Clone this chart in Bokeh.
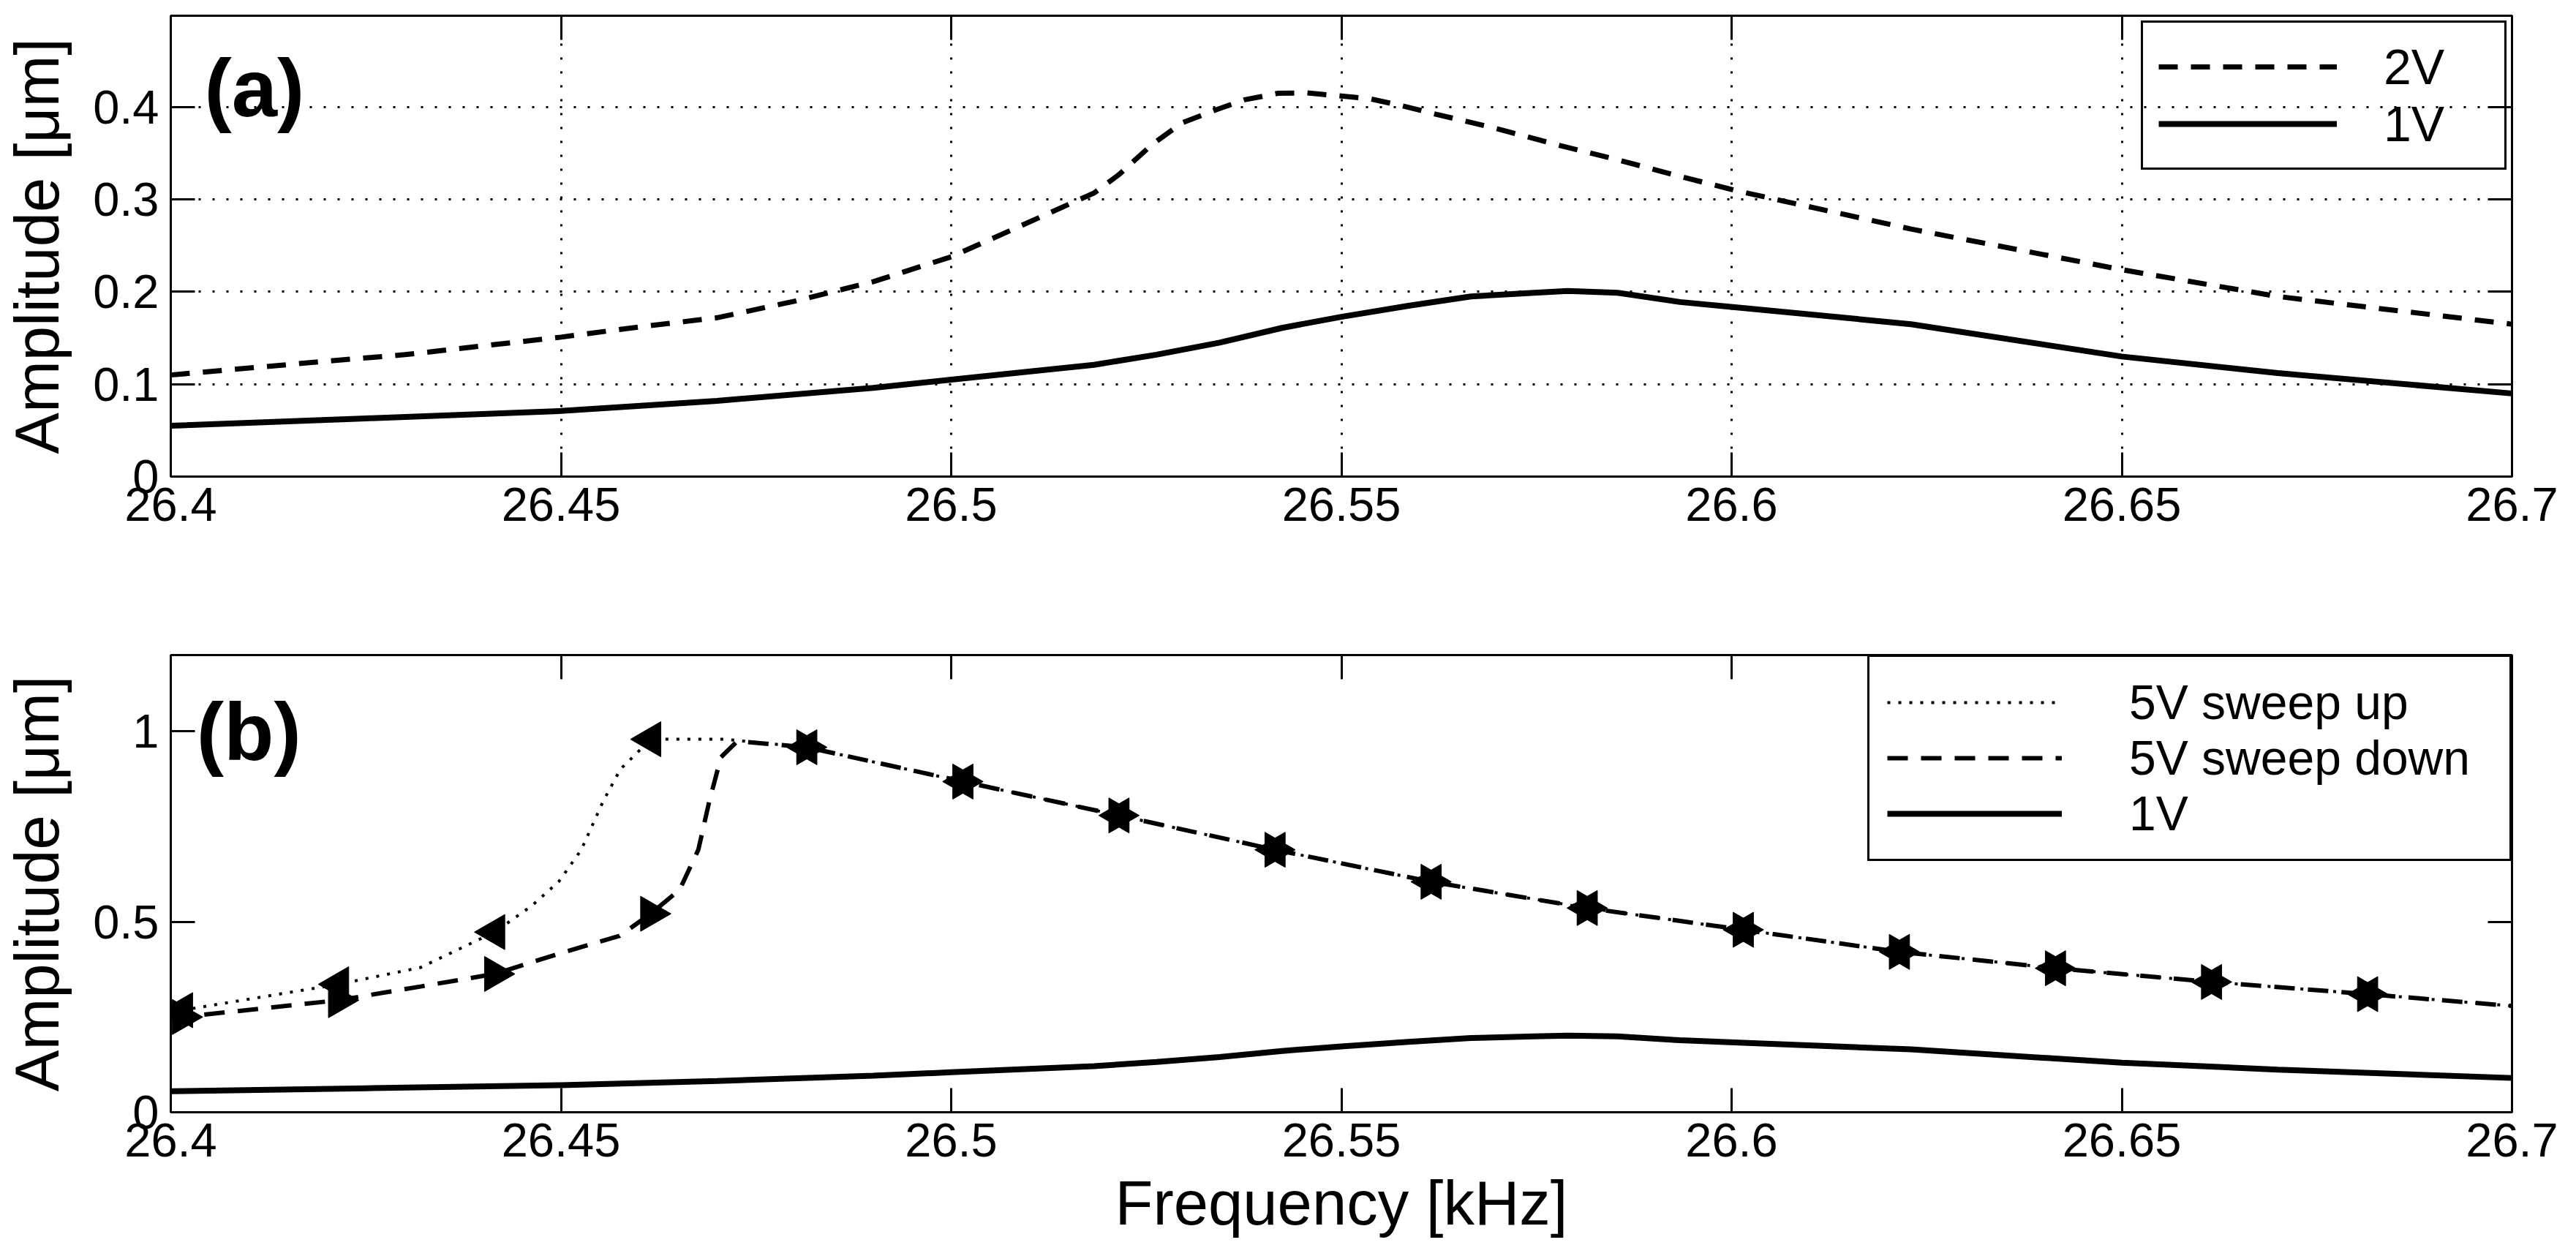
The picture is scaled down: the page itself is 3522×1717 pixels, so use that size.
from math import pi
from bokeh.plotting import figure
from bokeh.models import (Range1d, FixedTicker, LinearAxis, CustomJSTickFormatter,
                          Legend, LegendItem, Label)
from bokeh.layouts import column
from bokeh.embed import file_html
from bokeh.resources import INLINE

FONT = "Liberation Sans"

# ---------------- data ----------------
x_ticks = [26.4, 26.45, 26.5, 26.55, 26.6, 26.65, 26.7]
ya_ticks = [0, 0.1, 0.2, 0.3, 0.4]
yb_ticks = [0, 0.5, 1]

# panel (a): 2V
f_2v = [26.400, 26.420, 26.430, 26.450, 26.460, 26.470, 26.480, 26.490, 26.500,
        26.508, 26.5183, 26.5215, 26.5258, 26.5296, 26.5339, 26.5376, 26.5419,
        26.5456, 26.550, 26.5537, 26.5575, 26.5618, 26.5698, 26.5773, 26.5854,
        26.5934, 26.6009, 26.623, 26.650, 26.670, 26.700]
a_2v = [0.110, 0.125, 0.132, 0.151, 0.162, 0.172, 0.190, 0.211, 0.238,
        0.268, 0.307, 0.327, 0.360, 0.383, 0.397, 0.408, 0.415,
        0.4155, 0.412, 0.409, 0.402, 0.393, 0.377, 0.360, 0.343,
        0.325, 0.309, 0.268, 0.224, 0.195, 0.165]

# 1V (both panels)
f_1v = [26.400, 26.425, 26.450, 26.470, 26.490, 26.500, 26.5183, 26.5263, 26.5344,
        26.5424, 26.550, 26.5586, 26.5666, 26.5747, 26.579, 26.5854, 26.5934,
        26.6009, 26.623, 26.650, 26.670, 26.700]
a_1v = [0.055, 0.063, 0.071, 0.082, 0.096, 0.105, 0.121, 0.132, 0.145,
        0.161, 0.173, 0.185, 0.195, 0.199, 0.201, 0.199, 0.189,
        0.183, 0.165, 0.130, 0.112, 0.090]

# panel (b): 5V sweep up (dotted)
f_up = [26.400, 26.4015, 26.4215, 26.432, 26.4415, 26.4462, 26.4497, 26.4526,
        26.4554, 26.4576, 26.4615, 26.471, 26.4815, 26.5015, 26.5215, 26.5415,
        26.5615, 26.5815, 26.6015, 26.6215, 26.6415, 26.6615, 26.6815, 26.700]
a_up = [0.266, 0.268, 0.336, 0.380, 0.473, 0.541, 0.605, 0.689,
        0.816, 0.900, 0.979, 0.979, 0.958, 0.868, 0.779, 0.689,
        0.605, 0.536, 0.479, 0.421, 0.378, 0.342, 0.310, 0.279]

# panel (b): 5V sweep down (dashed)
f_dn = [26.400, 26.4015, 26.4215, 26.432, 26.4415, 26.4497, 26.4575, 26.4615,
        26.4652, 26.4676, 26.469, 26.4705, 26.4726, 26.4815, 26.5015, 26.5215,
        26.5415, 26.5615, 26.5815, 26.6015, 26.6215, 26.6415, 26.6615, 26.6815, 26.700]
a_dn = [0.248, 0.250, 0.294, 0.330, 0.363, 0.416, 0.463, 0.521,
        0.584, 0.689, 0.816, 0.932, 0.974, 0.958, 0.868, 0.779,
        0.689, 0.605, 0.536, 0.479, 0.421, 0.378, 0.342, 0.310, 0.279]

# marker positions
f_mark = [26.4015, 26.4215, 26.4415, 26.4615, 26.4815, 26.5015, 26.5215, 26.5415,
          26.5615, 26.5815, 26.6015, 26.6215, 26.6415, 26.6615, 26.6815]
a_mark_up = [0.268, 0.336, 0.473, 0.979, 0.958, 0.868, 0.779, 0.689,
             0.605, 0.536, 0.479, 0.421, 0.378, 0.342, 0.310]
a_mark_dn = [0.250, 0.294, 0.363, 0.521, 0.958, 0.868, 0.779, 0.689,
             0.605, 0.536, 0.479, 0.421, 0.378, 0.342, 0.310]

FMT = "return String(Math.round(tick*1000)/1000);"
EMPTY = "return '';"
TICK_LEN = 33


def style(p, yticks, ylabel, xlabel=None):
    p.outline_line_color = "black"
    p.outline_line_width = 3
    p.outline_line_alpha = 1.0
    p.xaxis.ticker = FixedTicker(ticks=x_ticks)
    p.yaxis.ticker = FixedTicker(ticks=yticks)
    p.xaxis.formatter = CustomJSTickFormatter(code=FMT)
    p.yaxis.formatter = CustomJSTickFormatter(code=FMT)
    for ax in (p.xaxis[0], p.yaxis[0]):
        ax.axis_line_color = None
        ax.major_tick_in = TICK_LEN
        ax.major_tick_out = 0
        ax.major_tick_line_width = 3
        ax.major_tick_line_color = "black"
        ax.minor_tick_line_color = None
        ax.major_label_text_font = FONT
        ax.major_label_text_font_size = "65px"
        ax.major_label_text_color = "black"
        ax.axis_label_text_font = FONT
        ax.axis_label_text_font_size = "85px"
        ax.axis_label_text_font_style = "normal"
        ax.axis_label_text_color = "black"
    p.xaxis.major_label_standoff = 15
    p.yaxis.major_label_standoff = 16
    p.yaxis.axis_label = ylabel
    p.yaxis.axis_label_standoff = 26
    if xlabel:
        p.xaxis.axis_label = xlabel
        p.xaxis.axis_label_standoff = 13
    for place, tk in (("above", x_ticks), ("right", yticks)):
        ax = LinearAxis(ticker=FixedTicker(ticks=tk),
                        formatter=CustomJSTickFormatter(code=EMPTY),
                        axis_line_color=None, major_tick_in=TICK_LEN, major_tick_out=0,
                        major_tick_line_width=3, major_tick_line_color="black",
                        minor_tick_line_color=None, major_label_text_font_size="0px",
                        major_label_standoff=0)
        p.add_layout(ax, place)


# ---------------- panel (a) ----------------
pa = figure(width=3506, height=779, x_range=Range1d(26.4, 26.7), y_range=Range1d(0, 0.499),
            output_backend="svg", toolbar_location=None,
            min_border_left=227, min_border_right=72, min_border_top=21, min_border_bottom=128)
pa.background_fill_color = "white"
style(pa, ya_ticks, "Amplitude [\u03bcm]")
for g, tk in ((pa.xgrid[0], x_ticks), (pa.ygrid[0], ya_ticks)):
    g.ticker = FixedTicker(ticks=tk)
    g.grid_line_color = "black"
    g.grid_line_width = 3
    g.grid_line_dash = "3 16"
    g.grid_line_alpha = 1.0

r2 = pa.line(f_2v, a_2v, line_color="black", line_width=7, line_dash="26 18")
r1 = pa.line(f_1v, a_1v, line_color="black", line_width=8)

leg_a = Legend(items=[LegendItem(label="2V", renderers=[r2]),
                      LegendItem(label="1V", renderers=[r1])],
               location="top_right", margin=7, padding=21, spacing=0,
               glyph_width=244, glyph_height=60, label_height=60, label_width=144,
               label_standoff=64, label_text_font=FONT, label_text_font_size="68px",
               label_text_color="black",
               border_line_color="black", border_line_width=3, border_line_alpha=1.0,
               background_fill_alpha=0)
pa.add_layout(leg_a)
pa.add_layout(Label(x=26.4043, y=0.4206, text="(a)", text_font=FONT, text_font_style="bold",
                    text_font_size="112px", text_baseline="middle", text_color="black"))

# ---------------- panel (b) ----------------
pb = figure(width=3506, height=915, x_range=Range1d(26.4, 26.7), y_range=Range1d(0, 1.2),
            output_backend="svg", toolbar_location=None,
            min_border_left=227, min_border_right=72, min_border_top=116, min_border_bottom=172)
pb.grid.visible = False
style(pb, yb_ticks, "Amplitude [\u03bcm]", "Frequency [kHz]")

ru = pb.line(f_up, a_up, line_color="black", line_width=4, line_dash="4 11")
rd = pb.line(f_dn, a_dn, line_color="black", line_width=6, line_dash="28 18")
r1b = pb.line(f_1v, a_1v, line_color="black", line_width=8)
pb.scatter(f_mark, a_mark_up, marker="triangle", angle=pi / 2, size=48,
           fill_color="black", line_color="black")
pb.scatter(f_mark, a_mark_dn, marker="triangle", angle=-pi / 2, size=48,
           fill_color="black", line_color="black")

leg_b = Legend(items=[LegendItem(label="5V sweep up", renderers=[ru]),
                      LegendItem(label="5V sweep down", renderers=[rd]),
                      LegendItem(label="1V", renderers=[r1b])],
               location="top_right", margin=0, padding=24, spacing=0,
               glyph_width=239, glyph_height=60, label_height=60, label_width=496,
               label_standoff=92, label_text_font=FONT, label_text_font_size="66px",
               label_text_color="black",
               border_line_color="black", border_line_width=3, border_line_alpha=1.0,
               background_fill_color="white", background_fill_alpha=1.0)
pb.add_layout(leg_b)
pb.add_layout(Label(x=26.4033, y=0.998, text="(b)", text_font=FONT, text_font_style="bold",
                    text_font_size="112px", text_baseline="middle", text_color="black"))

layout = column(pa, pb, spacing=0)
open("out.html", "w").write(file_html(layout, INLINE))
